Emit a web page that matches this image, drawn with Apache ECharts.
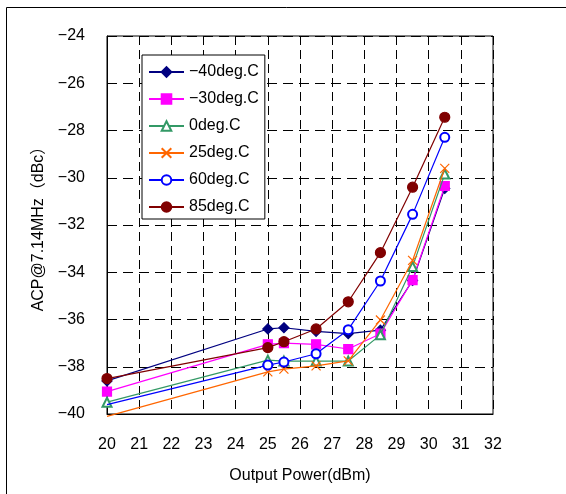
<!DOCTYPE html>
<html>
<head>
<meta charset="utf-8">
<script src="https://cdn.jsdelivr.net/npm/echarts@6/dist/echarts.min.js"></script>
<style>html,body{margin:0;padding:0;background:#fff;}#c{width:566px;height:494px;}</style>
</head>
<body>
<div id="c"></div>
<script>
const xValues = [20, 25, 25.5, 26.5, 27.5, 28.5, 29.5, 30.5];
const seriesNames = ['−40deg.C', '−30deg.C', '0deg.C', '25deg.C', '60deg.C', '85deg.C'];
const m40 = [-38.6, -36.4, -36.35, -36.5, -36.6, -36.45, -34.35, -30.45];
const m30 = [-39.05, -37.05, -37.0, -37.05, -37.25, -36.6, -34.33, -30.35];
const d0 = [-39.5, -37.72, -37.76, -37.76, -37.76, -36.65, -33.76, -29.84];
const d25 = [-40.1, -38.22, -38.1, -37.96, -37.75, -36.02, -33.5, -29.6];
const d60 = [-39.6, -37.93, -37.8, -37.45, -36.43, -34.37, -31.55, -28.29];
const d85 = [-38.5, -37.19, -36.94, -36.4, -35.25, -33.17, -30.4, -27.44];
const xTicks = [20, 21, 22, 23, 24, 25, 26, 27, 28, 29, 30, 31, 32];
const yTicks = [-40, -38, -36, -34, -32, -30, -28, -26, -24];
// points whose marker is not visible in the reference (series index -> point index)
const hiddenMarkers = {3: [0], 4: [0]};

const FONT = '"Liberation Sans", Arial, "Noto Sans CJK JP", sans-serif';
const allData = [m40, m30, d0, d25, d60, d85];
const styles = [
  {color: '#000080', symbol: 'diamond', size: 10},
  {color: '#FF00FF', symbol: 'rect', size: 9},
  {color: '#339966', symbol: 'emptyTriangle', size: 9},
  {color: '#FF6600', symbol: 'path://M0,0L10,10M10,0L0,10', size: 9},
  {color: '#0000FF', symbol: 'emptyCircle', size: 9},
  {color: '#800000', symbol: 'circle', size: 10}
];

const series = seriesNames.map((name, i) => ({
  name: name,
  type: 'line',
  clip: false,
  data: xValues.map((x, j) => {
    const item = {value: [x, allData[i][j]]};
    if (hiddenMarkers[i] && hiddenMarkers[i].indexOf(j) >= 0) item.symbol = 'none';
    return item;
  }),
  symbol: styles[i].symbol,
  symbolSize: styles[i].size,
  showAllSymbol: true,
  lineStyle: {color: styles[i].color, width: 1.2},
  itemStyle: {color: styles[i].color, borderColor: styles[i].color, borderWidth: 1.2},
  emphasis: {disabled: true},
  z: 2 + i
}));

const chart = echarts.init(document.getElementById('c'), null, {renderer: 'canvas'});
chart.setOption({
  animation: false,
  backgroundColor: '#fff',
  textStyle: {fontFamily: FONT},
  graphic: [{
    type: 'rect',
    shape: {x: 6.5, y: 7.5, width: 700, height: 700},
    style: {fill: 'none', stroke: '#000', lineWidth: 1},
    silent: true
  }],
  grid: {left: 107, right: 73, top: 36, bottom: 80, show: true, borderColor: '#000', borderWidth: 1},
  legend: {
    orient: 'vertical',
    left: 142,
    top: 55,
    padding: [9, 6, 4, 6],
    itemWidth: 35,
    itemHeight: 12,
    itemGap: 11,
    borderColor: '#000',
    borderWidth: 1,
    backgroundColor: '#fff',
    textStyle: {fontFamily: FONT, fontSize: 16, color: '#000', padding: [0, 0, 0, 0]},
    data: seriesNames
  },
  xAxis: {
    type: 'value',
    min: xTicks[0],
    max: xTicks[xTicks.length - 1],
    interval: 1,
    name: 'Output Power(dBm)',
    nameLocation: 'middle',
    nameGap: 54,
    nameTextStyle: {fontFamily: FONT, fontSize: 16, color: '#000'},
    axisLine: {lineStyle: {color: '#000', width: 1}},
    axisTick: {show: false},
    axisLabel: {fontFamily: FONT, fontSize: 16, color: '#000', margin: 23},
    splitLine: {show: true, lineStyle: {color: '#000', type: [9, 5], width: 1}}
  },
  yAxis: {
    type: 'value',
    min: yTicks[0],
    max: yTicks[yTicks.length - 1],
    interval: 2,
    name: 'ACP@7.14MHz（dBc）',
    nameLocation: 'middle',
    nameGap: 60,
    nameTextStyle: {fontFamily: FONT, fontSize: 16, color: '#000'},
    axisLine: {show: true, lineStyle: {color: '#000', width: 1}},
    axisTick: {show: false},
    axisLabel: {fontFamily: FONT, fontSize: 16, color: '#000', margin: 22,
      formatter: v => String(v).replace('-', '−')},
    splitLine: {show: true, lineStyle: {color: '#000', type: [10, 6], width: 1}}
  },
  series: series
});
</script>
</body>
</html>
